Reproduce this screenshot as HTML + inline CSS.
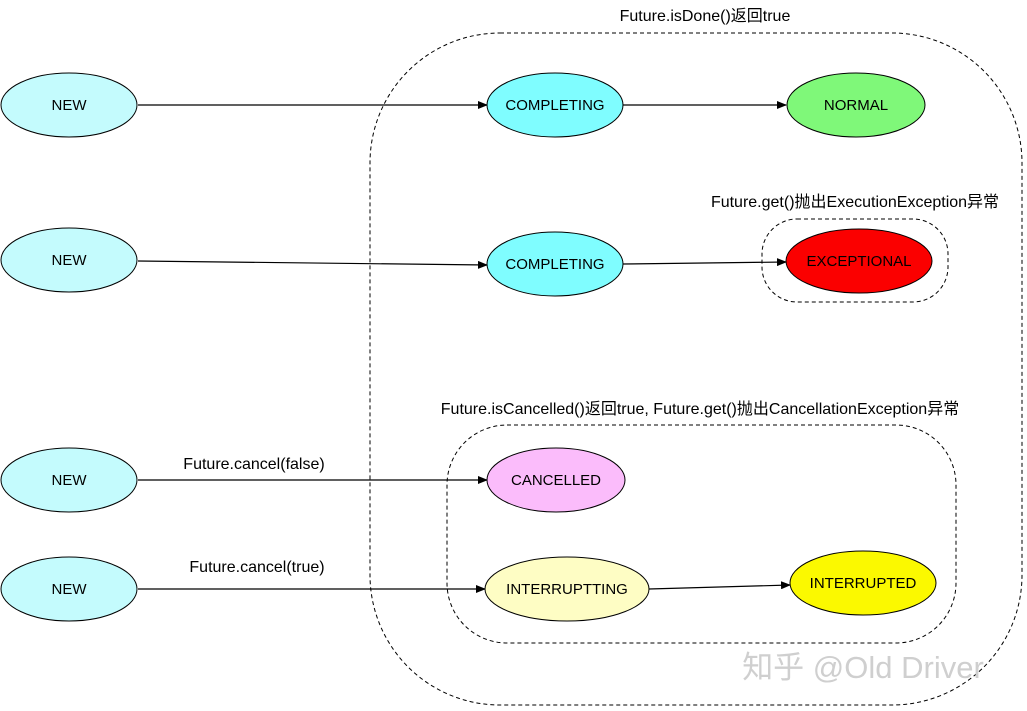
<!DOCTYPE html>
<html><head><meta charset="utf-8"><style>
html,body{margin:0;padding:0;background:#fff;}
svg{display:block}
text{font-family:"Liberation Sans","Noto Sans CJK SC",sans-serif;}
</style></head><body>
<svg width="1027" height="711" viewBox="0 0 1027 711" xmlns="http://www.w3.org/2000/svg">
<defs><marker id="a" markerWidth="10" markerHeight="8" refX="9" refY="4" orient="auto" markerUnits="userSpaceOnUse"><path d="M0,0 L10,4 L0,8 Z" fill="#000"/></marker></defs>
<g fill="none" stroke="#000" stroke-dasharray="4,3" stroke-width="1">
<rect x="370" y="33" width="652" height="672" rx="130" ry="130"/>
<rect x="762" y="219" width="186" height="83" rx="35" ry="35"/>
<rect x="447" y="425" width="509" height="218" rx="60" ry="60"/>
</g>
<g stroke="#000" stroke-width="1.2" marker-end="url(#a)">
<line x1="138" y1="105" x2="487" y2="105"/>
<line x1="138" y1="261" x2="487" y2="265"/>
<line x1="623" y1="105" x2="786" y2="105"/>
<line x1="623" y1="264" x2="786" y2="262"/>
<line x1="138" y1="480" x2="487" y2="480"/>
<line x1="138" y1="589" x2="485" y2="589"/>
<line x1="649" y1="589" x2="790" y2="585"/>
</g>
<g stroke="#000" stroke-width="1">
<ellipse cx="69" cy="105" rx="68" ry="32" fill="#c4fbfd"/>
<ellipse cx="69" cy="260" rx="68" ry="32" fill="#c4fbfd"/>
<ellipse cx="69" cy="480" rx="68" ry="32" fill="#c4fbfd"/>
<ellipse cx="69" cy="589" rx="68" ry="32" fill="#c4fbfd"/>
<ellipse cx="555" cy="105" rx="68" ry="32" fill="#7ffdff"/>
<ellipse cx="555" cy="264" rx="68" ry="32" fill="#7ffdff"/>
<ellipse cx="856" cy="105" rx="69" ry="32" fill="#7ff879"/>
<ellipse cx="859" cy="261" rx="73" ry="32" fill="#fb0000"/>
<ellipse cx="556" cy="480" rx="69" ry="32" fill="#fbbcfb"/>
<ellipse cx="567" cy="589" rx="82" ry="32" fill="#fefdc4"/>
<ellipse cx="863" cy="583" rx="73" ry="32" fill="#fbf900"/>
</g>
<g font-size="15" text-anchor="middle" fill="#000">
<text x="69" y="110">NEW</text>
<text x="69" y="265">NEW</text>
<text x="69" y="485">NEW</text>
<text x="69" y="594">NEW</text>
<text x="555" y="110">COMPLETING</text>
<text x="555" y="269">COMPLETING</text>
<text x="856" y="110">NORMAL</text>
<text x="859" y="266">EXCEPTIONAL</text>
<text x="556" y="485">CANCELLED</text>
<text x="567" y="594">INTERRUPTTING</text>
<text x="863" y="588">INTERRUPTED</text>
</g>
<g font-size="16" text-anchor="middle" fill="#000">
<text x="705" y="21">Future.isDone()返回true</text>
<text x="855" y="207">Future.get()抛出ExecutionException异常</text>
<text x="700" y="414">Future.isCancelled()返回true, Future.get()抛出CancellationException异常</text>
<text x="254" y="469">Future.cancel(false)</text>
<text x="257" y="572">Future.cancel(true)</text>
</g>
<text x="863" y="678" font-size="31" text-anchor="middle" fill="#cfcfcf">知乎 @Old Driver</text>
</svg>
</body></html>
